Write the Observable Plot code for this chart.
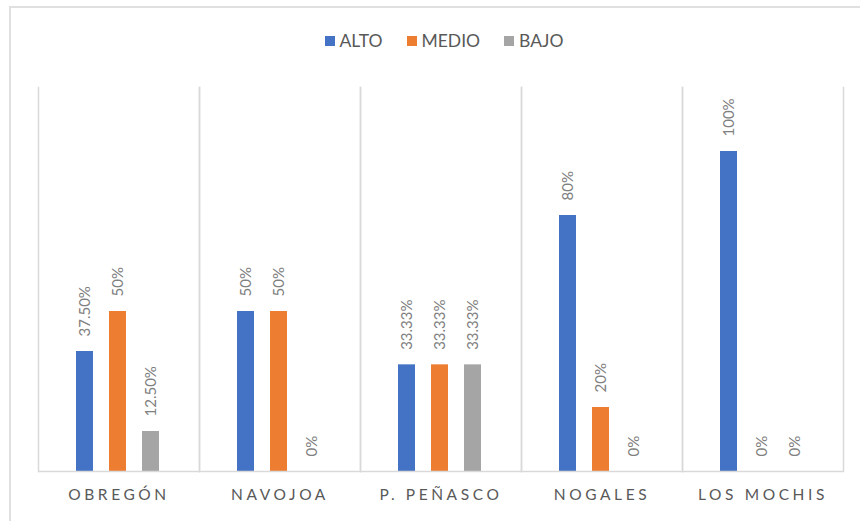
<!DOCTYPE html>
<html>
<head>
<meta charset="utf-8">
<script src="https://cdn.jsdelivr.net/npm/d3@7"></script>
<script src="https://cdn.jsdelivr.net/npm/@observablehq/plot@0.6"></script>
<style>
  html, body { margin: 0; padding: 0; background: #fff; width: 860px; height: 521px; overflow: hidden; }
  #border { position: absolute; left: 9px; top: 6px; width: 900px; height: 560px; border: 2px solid #e0e0e0; box-sizing: border-box; }
  #legend { position: absolute; left: 14px; top: 30px; width: 860px; display: flex; justify-content: center; gap: 24px;
            font-family: Lato, "Open Sans", sans-serif; font-size: 17.5px; color: #595959; }
  #legend .item { display: flex; align-items: center; gap: 5px; }
  #legend .sw { width: 10px; height: 10px; display: inline-block; }
  #chart { position: absolute; left: 0; top: 0; }
  #chart text { font-family: Lato, "Open Sans", sans-serif; }
</style>
</head>
<body>
<div id="border"></div>
<div id="legend"></div>
<div id="chart"></div>
<script>
const cities = ["OBREGÓN", "NAVOJOA", "P. PEÑASCO", "NOGALES", "LOS MOCHIS"];
const series = ["ALTO", "MEDIO", "BAJO"];
const colors = ["#4472C4", "#ED7D31", "#A5A5A5"];
const alto  = [0.375, 0.5, 0.3333, 0.8, 1.0];
const medio = [0.5,   0.5, 0.3333, 0.2, 0.0];
const bajo  = [0.125, 0.0, 0.3333, 0.0, 0.0];
const altoLabels  = ["37.50%", "50%", "33.33%", "80%", "100%"];
const medioLabels = ["50%", "50%", "33.33%", "20%", "0%"];
const bajoLabels  = ["12.50%", "0%", "33.33%", "0%", "0%"];

const seriesValues = [alto, medio, bajo];
const seriesLabels = [altoLabels, medioLabels, bajoLabels];
const data = [];
cities.forEach((c, i) => {
  series.forEach((s, j) => {
    data.push({city: c, series: s, value: seriesValues[j][i], label: seriesLabels[j][i]});
  });
});

// Legend
const legend = document.getElementById("legend");
series.forEach((s, j) => {
  const it = document.createElement("div");
  it.className = "item";
  const sw = document.createElement("span");
  sw.className = "sw";
  sw.style.background = colors[j];
  const t = document.createElement("span");
  t.textContent = s;
  it.appendChild(sw); it.appendChild(t);
  legend.appendChild(it);
});

const plot = Plot.plot({
  width: 860,
  height: 521,
  marginLeft: 36,
  marginRight: 15,
  marginTop: 87,
  marginBottom: 50,
  style: {background: "transparent", overflow: "visible"},
  fx: {domain: cities, padding: 0, label: null, tickSize: 0, tickPadding: 17},
  x: {domain: series, paddingInner: 0.485, paddingOuter: 1.15, axis: null},
  y: {domain: [0, 1.2], axis: null},
  color: {domain: series, range: colors},
  marks: [
    Plot.frame({anchor: "left", stroke: "#d9d9d9", strokeWidth: 1.5}),
    Plot.frame({anchor: "right", stroke: "#d9d9d9", strokeWidth: 1.5}),
    Plot.barY(data, {fx: "city", x: "series", y: "value", fill: "series", dx: -1}),
    Plot.ruleY([0], {stroke: "#d9d9d9", strokeWidth: 1.5}),
    Plot.text(data, {fx: "city", x: "series", y: "value", text: "label", rotate: -90,
      textAnchor: "start", lineAnchor: "middle", dy: -15, dx: -1, fill: "#808080", fontSize: 15})
  ]
});
document.getElementById("chart").appendChild(plot);

// style facet axis labels
d3.select(plot).selectAll("[aria-label='fx-axis tick label'] text, [aria-label='fx-axis tick label']")
  .attr("fill", "#595959").style("font-size", "15.5px").style("letter-spacing", "3.6px");
</script>
</body>
</html>
